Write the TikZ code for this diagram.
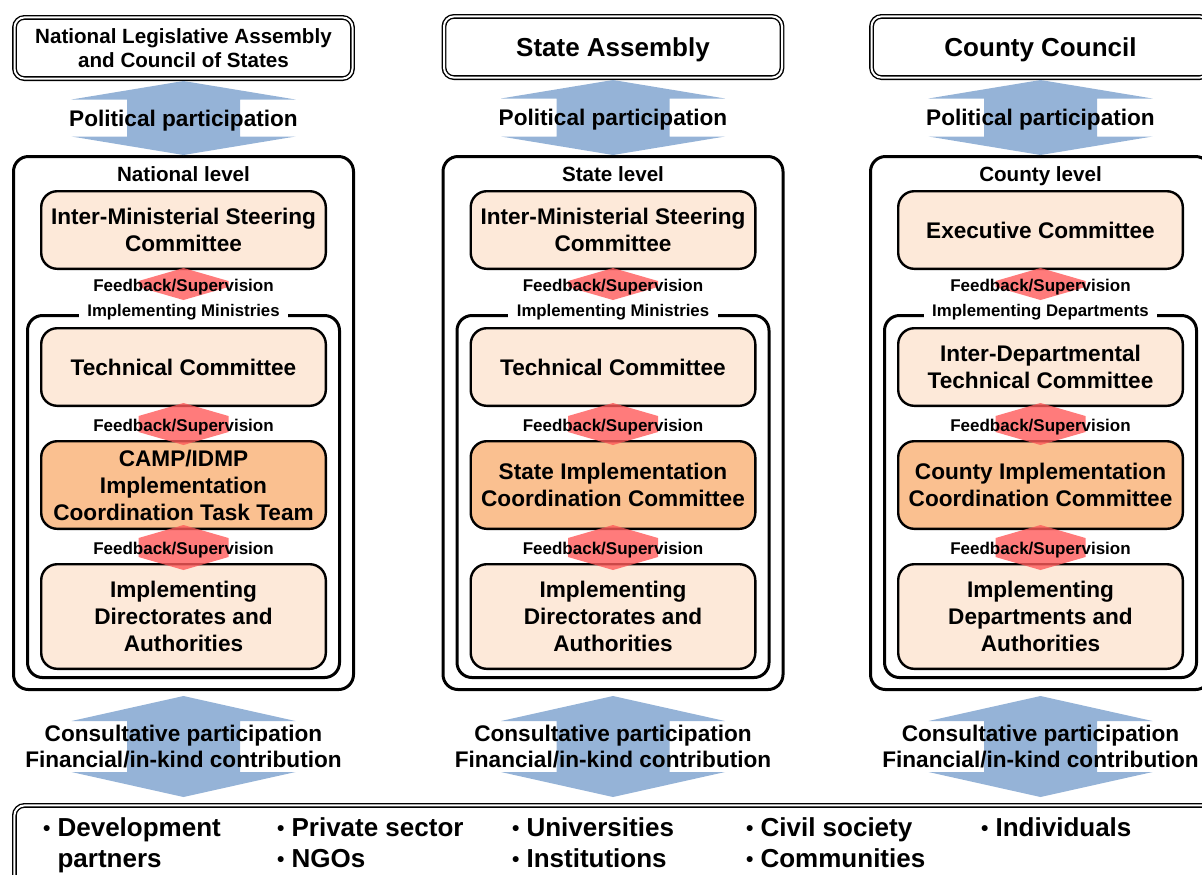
\documentclass[tikz,border=0pt]{standalone}
\usepackage{fontspec}
\setmainfont{Liberation Sans}
\usetikzlibrary{calc}
\definecolor{partblue}{HTML}{95B3D7}
\definecolor{lightorange}{HTML}{FDE9D9}
\definecolor{darkorange}{HTML}{FAC090}
\definecolor{fbred}{HTML}{FF5A5A}
\newcommand{\itm}{\raisebox{0.05em}{\fontsize{10.5}{10.5}\selectfont\textbullet}~}
% participation arrow: from, dy, to, dy, head length
\newcommand{\partarrow}[5]{%
  \coordinate (pt) at ($(#1)+(0,#2)$);
  \coordinate (pb) at ($(#3)+(0,#4)$);
  \fill[partblue] (pt) -- ++(112,#5) -- ++(-55.5,0) -- ($(pb)+(56.5,-#5)$) -- ++(55.5,0) -- (pb)
    -- ($(pb)+(-112,-#5)$) -- ++(55.5,0) -- ($(pt)+(-56.5,#5)$) -- ++(-55.5,0) -- cycle;}
% feedback arrow between two boxes, with its label
\newcommand{\fbarrow}[5]{%
  \coordinate (ft) at ($(#1)+(0,#2)$);
  \coordinate (fb) at ($(#3)+(0,#4)$);
  \fill[fbred, fill opacity=0.8] (ft) -- ($(ft)+(45,13)$) -- ($(fb)+(45,-13)$) -- (fb)
    -- ($(fb)+(-45,-13)$) -- ($(ft)+(-45,13)$) -- cycle;
  \node[fbtext] (#5) at ($(ft)!0.5!(fb)$) {Feedback/Supervision};}

\begin{document}
\begin{tikzpicture}
[x=0.5pt, y=-0.5pt, outer sep=0pt, font=\bfseries,
titlebox/.style ={rectangle, draw, double, double distance=1pt, line width=0.7pt, rounded corners=5pt, minimum width=169pt, minimum height=30.6pt, align=center, inner sep=0pt, text depth=0pt, font={\fontsize{13}{15.6}\selectfont\bfseries}},
levelbox/.style ={rectangle, draw, line width=1.5pt, rounded corners=7.5pt, minimum width=170pt, minimum height=266.5pt},
implbox/.style  ={rectangle, draw, line width=1.5pt, rounded corners=7.5pt, minimum width=156pt, minimum height=181pt},
cbox/.style     ={rectangle, draw, line width=1.2pt, rounded corners=8pt, fill=lightorange, minimum width=142.3pt, align=center, inner sep=0pt, font={\fontsize{11.3}{13.5}\selectfont\bfseries}},
leveltext/.style={inner sep=0pt, text depth=0pt, font={\fontsize{10.3}{12}\selectfont\bfseries}},
impltext/.style ={fill=white, inner xsep=4.25pt, inner ysep=0pt, yshift=1.5pt, font={\fontsize{8.4}{10}\selectfont\bfseries}},
fbtext/.style   ={inner sep=0pt, text depth=0pt, yshift=-0.5pt, font={\fontsize{8.5}{10}\selectfont\bfseries}},
parttext/.style ={inner sep=0pt, align=center, text depth=0pt, font={\fontsize{11.3}{13}\selectfont\bfseries}},
listtext/.style ={anchor=north west, align=left, inner sep=0pt, font={\fontsize{13}{15.5}\selectfont\bfseries}}]
\useasboundingbox (0,0) rectangle (1202,874);
\clip (0,0) rectangle (1202,874);

% national
\node[titlebox, font={\fontsize{10.3}{12}\selectfont\bfseries}] (ntitle) at (183.5,48) {National Legislative Assembly\\and Council of States};
\node[levelbox] (nlevel) at (183.5,423) {};
\node[leveltext] (nlevtxt) at (183.5,174) {National level};
\node[implbox] (nimpl) at (183.5,496.5) {};
\node[impltext] (nimpltxt) at (nimpl.north) {Implementing Ministries};
\node[cbox, minimum height=38.8pt] (nisc) at (183.5,230) {Inter-Ministerial Steering\\Committee};
\node[cbox, minimum height=38.8pt] (ntc) at (183.5,367) {Technical Committee};
\node[cbox, fill=darkorange, minimum height=43.8pt] (nicc) at (183.5,485) {CAMP/IDMP\\Implementation\\Coordination Task Team};
\node[cbox, minimum height=52.3pt] (nida) at (183.5,616.5) {Implementing\\Directorates and\\Authorities};

% state
\node[titlebox] (stitle) at (613,47) {State Assembly};
\node[levelbox] (slevel) at (613,423) {};
\node[leveltext] (slevtxt) at (613,174) {State level};
\node[implbox] (simpl) at (613,496.5) {};
\node[impltext] (simpltxt) at (simpl.north) {Implementing Ministries};
\node[cbox, minimum height=38.8pt] (sisc) at (613,230) {Inter-Ministerial Steering\\Committee};
\node[cbox, minimum height=38.8pt] (stc) at (613,367) {Technical Committee};
\node[cbox, fill=darkorange, minimum height=43.8pt] (sicc) at (613,485) {State Implementation\\Coordination Committee};
\node[cbox, minimum height=52.3pt] (sida) at (613,616.5) {Implementing\\Directorates and\\Authorities};

% county
\node[titlebox] (ctitle) at (1040.5,47) {County Council};
\node[levelbox] (clevel) at (1040.5,423) {};
\node[leveltext] (clevtxt) at (1040.5,174) {County level};
\node[implbox] (cimpl) at (1040.5,496.5) {};
\node[impltext] (cimpltxt) at (cimpl.north) {Implementing Departments};
\node[cbox, minimum height=38.8pt] (cisc) at (1040.5,230) {Executive Committee};
\node[cbox, minimum height=38.8pt] (ctc) at (1040.5,367) {Inter-Departmental\\Technical Committee};
\node[cbox, fill=darkorange, minimum height=43.8pt] (cicc) at (1040.5,485) {County Implementation\\Coordination Committee};
\node[cbox, minimum height=52.3pt] (cida) at (1040.5,616.5) {Implementing\\Departments and\\Authorities};

% stakeholders
\node[titlebox, minimum width=600pt, minimum height=50pt, anchor=north west] (others) at (14.4,805.4) {};
\node[listtext] (devp) at (43,818) {\itm Development\\\hphantom{\itm}partners};
\node[listtext] (priv) at (277,818) {\itm Private sector\\\itm NGOs};
\node[listtext] (univ) at (512,818) {\itm Universities\\\itm Institutions};
\node[listtext] (civil) at (746,818) {\itm Civil society\\\itm Communities};
\node[listtext] (indiv) at (981,818) {\itm Individuals};

\foreach \c in {n,s,c} {
  \partarrow{\c title.south}{2.4}{\c level.north}{-1.5}{18.5}
  \node[parttext] (\c pol) at ($(pt)!0.5!(pb)$) {Political participation};
  \partarrow{\c level.south}{6.5}{\c level.south |- others.north}{-8.4}{25}
  \node[parttext] (\c con) at ($(pt)!0.5!(pb)$) {Consultative participation\\Financial/in-kind contribution};
  \fbarrow{\c isc.south}{-0.8}{\c impl.north}{-15.5}{\c fbone}
  \fbarrow{\c tc.south}{-2.8}{\c icc.north}{3.8}{\c fbtwo}
  \fbarrow{\c icc.south}{-3.8}{\c ida.north}{5.8}{\c fbthree}
}
\end{tikzpicture}
\end{document}
